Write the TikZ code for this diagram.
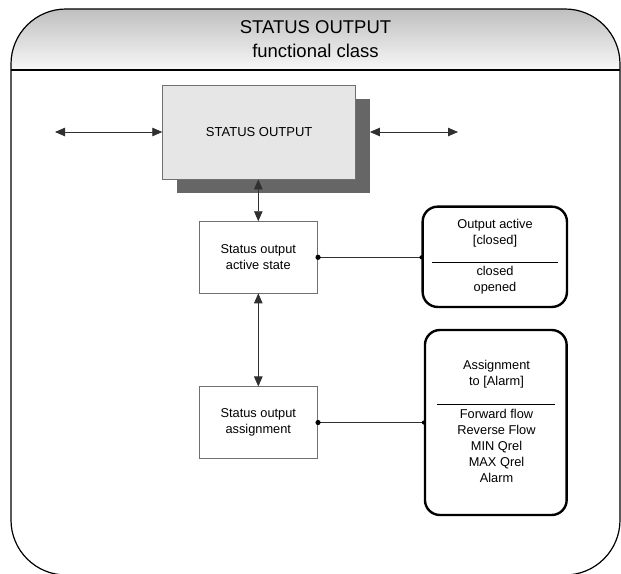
\documentclass[tikz,border=0pt]{standalone}
\usepackage{fontspec}
\setmainfont{Liberation Sans}
\usetikzlibrary{arrows.meta}
\definecolor{boxfill}{HTML}{E6E6E6}
\definecolor{shadowgray}{HTML}{666666}
\definecolor{boxline}{HTML}{707070}
\definecolor{connline}{HTML}{303030}
\begin{document}
\begin{tikzpicture}[x=1pt,y=-1pt,
  titletext/.style={inner sep=0pt, font=\fontsize{18.5}{22}\selectfont},
  boxtext/.style={font=\fontsize{12.8}{16.3}\selectfont, align=center},
  mainbox/.style={draw=boxline, line width=0.8pt, fill=boxfill, minimum width=193pt, minimum height=94pt, inner sep=0pt, font=\fontsize{13}{16}\selectfont},
  shadowbox/.style={fill=shadowgray, minimum width=193pt, minimum height=94pt, inner sep=0pt},
  smallbox/.style={draw=boxline, line width=0.8pt, fill=white, minimum width=118.7pt, minimum height=71.3pt, inner sep=0pt, boxtext},
  roundbox/.style={draw=black, line width=2.4pt, rounded corners=15pt, inner sep=0pt},
  conn/.style={draw=connline, line width=0.8pt},
  tri/.tip={Triangle[length=10pt,width=8.5pt]},
  both/.style={conn, tri-tri},
  dot/.style={fill=black}
]
\useasboundingbox (0,0) rectangle (621,573);
\clip (0,0) rectangle (621,573);

% header band
\shade[top color=black!25, bottom color=black!3]
  (11,70) -- (11,64) arc(180:270:55) -- (565,9) arc(270:360:55) -- (620,70) -- cycle;
% outer frame
\draw[line width=1.2pt] (11,70) -- (11,64) arc(180:270:55) -- (565,9) arc(270:360:55)
  -- (620,520) arc(0:90:55) -- (66,575) arc(90:180:55) -- cycle;
\draw[line width=1.2pt] (11,70) -- (620,70);

\node[titletext] (t1) at (315.5,27) {STATUS OUTPUT};
\node[titletext] (t2) at (315.5,51) {functional class};

% main block
\node[shadowbox] (msh) at (273.2,146) {};
\node[mainbox] (main) at (259.2,132) {STATUS OUTPUT};

\coordinate (lend) at (55,132);
\coordinate (rend) at (458,132);
\draw[both] (lend) -- (main.west);
\draw[both] (msh.east |- main.east) -- (rend);

% state blocks
\node[smallbox] (box1) at (258.3,257.3) {Status output\\active state};
\node[smallbox] (box2) at (258.3,422.5) {Status output\\assignment};

\draw[both] (box1.north |- main.south) -- (box1.north);
\draw[both] (box1.south) -- (box2.north);

% right boxes
\node[roundbox, minimum width=144.3pt, minimum height=100.3pt] (rb1) at (494.8,256.8) {};
\node[roundbox, minimum width=141.7pt, minimum height=185pt] (rb2) at (495.8,422.5) {};

\node[boxtext] (rb1a) at (495,233) {Output active\\{[closed]}};
\draw[line width=0.8pt] (431.7,262) coordinate (d1a) -- (558,262) coordinate (d1b);
\node[boxtext] (rb1b) at (495,280.5) {closed\\opened};

\node[boxtext] (rb2a) at (496.5,374) {Assignment\\to [Alarm]};
\draw[line width=0.8pt] (437,404.3) coordinate (d2a) -- (555,404.3) coordinate (d2b);
\node[boxtext, font=\fontsize{12.8}{16.1}\selectfont] (rb2b) at (496.5,446) {Forward flow\\Reverse Flow\\MIN Qrel\\MAX Qrel\\Alarm};

% connectors to right boxes
\draw[conn] (box1.east) -- (rb1.west |- box1.east);
\draw[conn] (box2.east) -- (rb2.west |- box2.east);
\fill[dot] (box1.east) circle (2.6);
\fill[dot] (box2.east) circle (2.6);
\fill[dot] (rb1.west |- box1.east) circle (2);
\fill[dot] (rb2.west |- box2.east) circle (2);
\end{tikzpicture}
\end{document}
